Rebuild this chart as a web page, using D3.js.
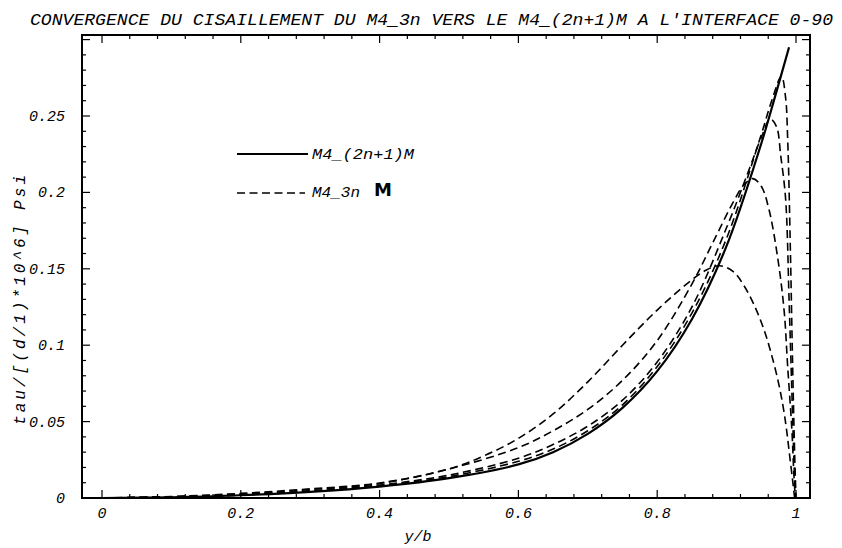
<!DOCTYPE html>
<html><head><meta charset="utf-8">
<script src="https://cdn.jsdelivr.net/npm/d3@7"></script>
<style>body{margin:0;background:#fff}</style></head><body>
<svg id="c" width="842" height="548"></svg>
<script>
const titleText = "CONVERGENCE DU CISAILLEMENT DU M4_3n VERS LE M4_(2n+1)M A L'INTERFACE 0-90";
const xLabel = "y/b";
const yLabel = "tau/[(d/1)*10^6] Psi";
const xTickValues = [0, 0.2, 0.4, 0.6, 0.8, 1];
const xTickLabels = ["0", "0.2", "0.4", "0.6", "0.8", "1"];
const yTickValues = [0, 0.05, 0.1, 0.15, 0.2, 0.25];
const yTickLabels = ["0", "0.05", "0.1", "0.15", "0.2", "0.25"];
const legendSolid = "M4_(2n+1)M";
const legendDashed = "M4_3n";
const legendDashedMark = "M";

// M4_(2n+1)M reference (solid)
const solidX = [0, 0.1, 0.2, 0.3, 0.4, 0.5, 0.6, 0.65, 0.7, 0.75, 0.8, 0.85, 0.9, 0.95, 0.97, 0.99];
const solidY = [0, 0.0005, 0.0018, 0.004, 0.0075, 0.013, 0.022, 0.030, 0.042, 0.059, 0.083, 0.117, 0.165, 0.232, 0.263, 0.295];

// M4_3n curves (dashed), increasing n
const dashAX = [0, 0.1, 0.2, 0.3, 0.4, 0.5, 0.55, 0.6, 0.65, 0.7, 0.75, 0.8, 0.845, 0.87, 0.89, 0.91, 0.925, 0.94, 0.954, 0.964, 0.974, 0.981, 0.986, 0.99, 0.995, 0.998];
const dashAY = [0, 0.001, 0.003, 0.006, 0.0098, 0.019, 0.0275, 0.039, 0.055, 0.076, 0.100, 0.123, 0.141, 0.149, 0.152, 0.148, 0.139, 0.126, 0.110, 0.095, 0.077, 0.061, 0.046, 0.031, 0.012, 0];

const dashBX = [0, 0.1, 0.2, 0.3, 0.4, 0.5, 0.6, 0.65, 0.7, 0.75, 0.8, 0.85, 0.88, 0.91, 0.925, 0.938, 0.95, 0.961, 0.974, 0.983, 0.988, 0.994, 0.997, 0.999];
const dashBY = [0, 0.0008, 0.0025, 0.0055, 0.0095, 0.019, 0.033, 0.044, 0.058, 0.077, 0.103, 0.140, 0.167, 0.194, 0.205, 0.209, 0.204, 0.189, 0.156, 0.122, 0.086, 0.045, 0.015, 0];

const dashCX = [0, 0.1, 0.2, 0.3, 0.4, 0.5, 0.6, 0.65, 0.7, 0.75, 0.8, 0.85, 0.9, 0.93, 0.95, 0.963, 0.972, 0.978, 0.985, 0.99, 0.994, 0.997, 0.999];
const dashCY = [0, 0.0007, 0.0021, 0.0047, 0.0085, 0.015, 0.026, 0.035, 0.047, 0.064, 0.089, 0.125, 0.177, 0.212, 0.236, 0.248, 0.243, 0.224, 0.196, 0.13, 0.07, 0.025, 0];

const dashDX = [0, 0.1, 0.2, 0.3, 0.4, 0.5, 0.6, 0.65, 0.7, 0.75, 0.8, 0.85, 0.9, 0.95, 0.965, 0.979, 0.985, 0.988, 0.992, 0.995, 0.998, 1.0];
const dashDY = [0, 0.0006, 0.0019, 0.0043, 0.008, 0.014, 0.024, 0.032, 0.044, 0.061, 0.086, 0.121, 0.170, 0.238, 0.260, 0.276, 0.262, 0.235, 0.16, 0.09, 0.03, 0];

const svg = d3.select("#c");
const font = "'Liberation Mono', 'DejaVu Sans Mono', monospace";

const x = d3.scaleLinear().domain([0, 1]).range([102, 796]);
const y = d3.scaleLinear().domain([0, 0.25]).range([498, 116]);
const xMin = x.invert(82), xMax = x.invert(810);
const yMin = 0, yMax = y.invert(35);

svg.append("defs").append("clipPath").attr("id", "clip").append("rect")
  .attr("x", x(xMin)).attr("y", y(yMax)).attr("width", x(xMax) - x(xMin)).attr("height", y(yMin) - y(yMax));

// frame
svg.append("rect").attr("x", x(xMin)).attr("y", y(yMax))
  .attr("width", x(xMax) - x(xMin)).attr("height", y(yMin) - y(yMax))
  .attr("fill", "none").attr("stroke", "#000").attr("stroke-width", 2);

// ticks (inward, on all four sides)
const xMinor = d3.range(0, 1.0001, 0.04).filter(v => Math.abs(v / 0.2 - Math.round(v / 0.2)) > 1e-6);
const yMinor = d3.range(0, yMax, 0.01).filter(v => Math.abs(v / 0.05 - Math.round(v / 0.05)) > 1e-6);
function xTicks(vals, len) {
  vals.forEach(v => {
    svg.append("line").attr("x1", x(v)).attr("x2", x(v)).attr("y1", y(yMin)).attr("y2", y(yMin) - len)
      .attr("stroke", "#000").attr("stroke-width", 1.2);
    svg.append("line").attr("x1", x(v)).attr("x2", x(v)).attr("y1", y(yMax)).attr("y2", y(yMax) + len)
      .attr("stroke", "#000").attr("stroke-width", 1.2);
  });
}
function yTicks(vals, len) {
  vals.forEach(v => {
    svg.append("line").attr("x1", x(xMin)).attr("x2", x(xMin) + len).attr("y1", y(v)).attr("y2", y(v))
      .attr("stroke", "#000").attr("stroke-width", 1.2);
    svg.append("line").attr("x1", x(xMax)).attr("x2", x(xMax) - len).attr("y1", y(v)).attr("y2", y(v))
      .attr("stroke", "#000").attr("stroke-width", 1.2);
  });
}
xTicks(xTickValues, 8); xTicks(xMinor, 4);
yTicks(yTickValues.concat([0.3]), 8); yTicks(yMinor, 4);

// tick labels
xTickValues.forEach((v, i) => {
  svg.append("text").attr("x", x(v)).attr("y", 518).attr("text-anchor", "middle")
    .attr("font-family", font).attr("font-style", "italic").attr("font-size", 15).text(xTickLabels[i]);
});
yTickValues.forEach((v, i) => {
  svg.append("text").attr("x", 65).attr("y", y(v) + 5).attr("text-anchor", "end")
    .attr("font-family", font).attr("font-style", "italic").attr("font-size", 15).text(yTickLabels[i]);
});

// axis labels
svg.append("text").attr("x", 418).attr("y", 541).attr("text-anchor", "middle")
  .attr("font-family", font).attr("font-style", "italic").attr("font-size", 15).text(xLabel);
svg.append("text").attr("transform", "translate(25,300) rotate(-90)").attr("text-anchor", "middle")
  .attr("font-family", font).attr("font-style", "italic").attr("font-size", 16)
  .attr("textLength", 250).attr("lengthAdjust", "spacing").text(yLabel);

// title
svg.append("text").attr("x", 30).attr("y", 25)
  .attr("font-family", font).attr("font-style", "italic").attr("font-size", 16)
  .attr("textLength", 803).attr("lengthAdjust", "spacingAndGlyphs").text(titleText);

// curves
const line = (xs, ys) => d3.line().curve(d3.curveCatmullRom.alpha(0.5))
  .x((d, i) => x(xs[i])).y((d, i) => y(ys[i]))(xs);
const g = svg.append("g").attr("clip-path", "url(#clip)");
[[dashAX, dashAY], [dashBX, dashBY], [dashCX, dashCY], [dashDX, dashDY]].forEach(([xs, ys]) => {
  g.append("path").attr("d", line(xs, ys)).attr("fill", "none").attr("stroke", "#000")
    .attr("stroke-width", 1.6).attr("stroke-dasharray", "8,4.5");
});
g.append("path").attr("d", line(solidX, solidY)).attr("fill", "none").attr("stroke", "#000")
  .attr("stroke-width", 2.2);

// legend
svg.append("line").attr("x1", 237).attr("x2", 308).attr("y1", 154).attr("y2", 154)
  .attr("stroke", "#000").attr("stroke-width", 2.2);
svg.append("text").attr("x", 312).attr("y", 159).attr("font-family", font).attr("font-style", "italic")
  .attr("font-size", 15).attr("textLength", 102).attr("lengthAdjust", "spacingAndGlyphs").text(legendSolid);
svg.append("line").attr("x1", 237).attr("x2", 305).attr("y1", 193).attr("y2", 193)
  .attr("stroke", "#000").attr("stroke-width", 1.6).attr("stroke-dasharray", "8,4.5");
svg.append("text").attr("x", 312).attr("y", 197).attr("font-family", font).attr("font-style", "italic")
  .attr("font-size", 15).attr("textLength", 48).attr("lengthAdjust", "spacingAndGlyphs").text(legendDashed);
svg.append("text").attr("x", 374).attr("y", 196).attr("font-family", "'DejaVu Sans', sans-serif")
  .attr("font-weight", "bold").attr("font-size", 18).text(legendDashedMark);
</script>
</body></html>
